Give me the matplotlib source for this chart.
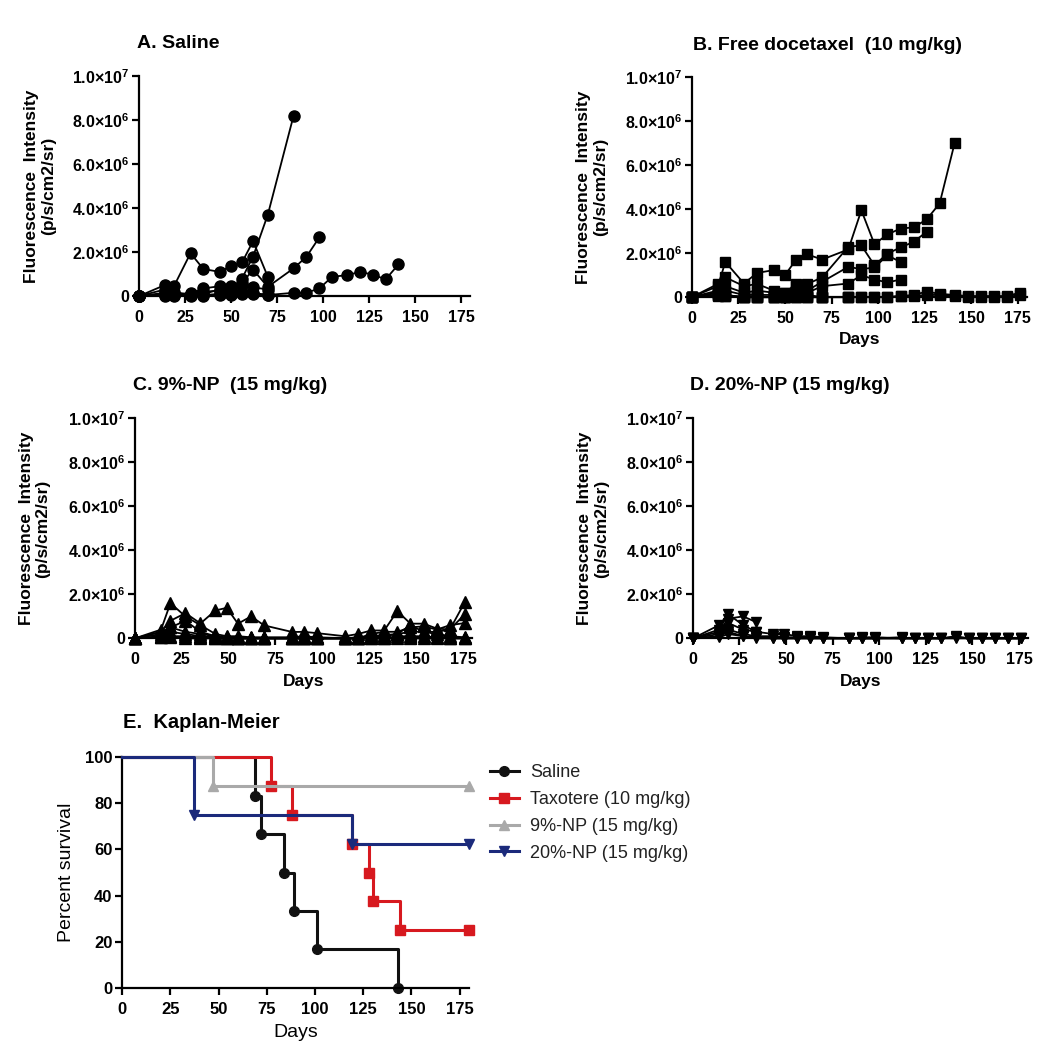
import numpy as np
import matplotlib
matplotlib.use('Agg')
import matplotlib.pyplot as plt

plt.rcParams['font.family'] = ['Liberation Sans', 'DejaVu Sans']
plt.rcParams['mathtext.fontset'] = 'custom'
plt.rcParams['mathtext.rm'] = 'Liberation Sans'
plt.rcParams['mathtext.bf'] = 'Liberation Sans:bold'

# fluorescence intensity per mouse, in units of 1e6 p/s/cm2/sr
SAL_DAYS = [0, 14, 19, 28, 35, 44, 50, 56, 62, 70, 84, 91, 98, 105, 113, 120, 127, 134, 141]
SAL_M1 = [0, 0.1, 0.05, 0.15, 0.2, 0.25, 0.3, 0.8, 1.8, 3.7, 8.2]
SAL_M2 = [0, 0.5, 0.45, 1.95, 1.23, 1.1, 1.38, 1.53, 2.5, 0.88]
SAL_M3 = [0, 0.05, 0.05, 0.1, 0.35, 0.45, 0.45, 0.6, 1.2, 0.42, 1.26, 1.79, 2.67]
SAL_M4 = [0, 0, 0, 0, 0, 0.05, 0.05, 0.1, 0.1, 0.05, 0.15, 0.15, 0.35, 0.88, 0.95, 1.1, 0.98, 0.76, 1.44]
SAL_M5 = [0, 0.3, 0.1, 0.1, 0.1, 0.3, 0.4, 0.5, 0.4, 0.3]
SAL_M6 = [0, 0.15, 0.2, 0.05, 0.05, 0.1, 0.1, 0.2, 0.15, 0.05]

FD_DAYS = [0, 14, 18, 28, 35, 44, 50, 56, 62, 70, 84, 91, 98, 105, 112, 119, 126, 133, 141,
           148, 155, 162, 169, 176]
FD_M1 = [0, 0.5, 1.6, 0.62, 1.1, 1.23, 1.0, 1.71, 1.94, 1.71, 2.17, 3.95, 2.41, 2.85, 3.12, 3.17,
         3.53, 4.26, 6.99]
FD_M2 = [0, 0.6, 0.9, 0.5, 0.6, 0.3, 0.2, 0.5, 0.6, 0.9, 2.29, 2.35, 1.45, 1.98, 2.26, 2.51, 2.97]
FD_M3 = [0, 0.3, 0.5, 0.2, 0.3, 0.2, 0.2, 0.6, 0.3, 0.7, 1.38, 1.27, 1.35, 1.9, 1.6]
FD_M4 = [0, 0.2, 0.3, 0.1, 0.1, 0.1, 0.1, 0.3, 0.2, 0.5, 0.62, 1.0, 0.8, 0.67, 0.8]
FD_M5 = [0, 0.2, 0.1, 0, 0, 0, 0, 0.1, 0.1, 0]
FD_M6 = [0, 0.1, 0.05, 0, 0, 0, 0, 0, 0, 0, 0]
FD_M7 = [0, 0.1, 0.1, 0, 0, 0, 0, 0, 0, 0, 0, 0, 0, 0, 0.05, 0.1, 0.25, 0.15, 0.1, 0.05, 0.05,
         0.05, 0.05, 0.2]
FD_M8 = [0, 0.05, 0.05, 0, 0, 0, 0, 0, 0, 0, 0, 0, 0, 0, 0.05, 0.05, 0.1, 0.1, 0.05, 0, 0, 0,
         0, 0.1]

NP9_DAYS = [0, 14, 19, 27, 35, 43, 49, 55, 62, 69, 84, 90, 97, 112, 119, 126, 133, 140, 147,
            154, 161, 168, 176]
NP9_M1 = [0, 0.4, 1.6, 1.0, 0.6, 0.2, 0.1, 0.1, 0.05, 0.05, 0.05, 0.1, 0.05, 0, 0.05, 0.1,
          0.1, 0.2, 0.3, 0.3, 0.3, 0.4, 1.65]
NP9_M2 = [0, 0.3, 0.8, 1.15, 0.68, 1.27, 1.39, 0.67, 1.0, 0.59, 0.29, 0.3, 0.24, 0.1, 0.2,
          0.36, 0.36, 1.24, 0.67, 0.67, 0.45, 0.4, 1.1]
NP9_M3 = [0, 0.2, 0.5, 0.8, 0.3, 0.1, 0.05, 0, 0, 0, 0, 0, 0, 0, 0, 0.2, 0.3, 0.3, 0.5, 0.55,
          0.4, 0.6, 0.7]
NP9_M4 = [0, 0.3, 0.5, 0.3, 0.2, 0.1]
NP9_M5 = [0, 0.1, 0.3, 0.2, 0.1, 0.05, 0, 0, 0, 0, 0, 0, 0, 0, 0, 0.1, 0.15, 0.2, 0.6, 0.3,
          0.2, 0.1, 0.05]
NP9_M6 = [0, 0.05, 0.1, 0.1, 0.05, 0, 0, 0, 0, 0, 0, 0, 0, 0, 0, 0, 0, 0.1, 0.1, 0.1, 0.05,
          0, 0]
NP9_M7 = [0, 0.05, 0.05, 0, 0, 0, 0, 0, 0, 0, 0, 0, 0, 0, 0, 0, 0, 0, 0, 0, 0, 0, 0]

NP20_DAYS = [0, 14, 19, 27, 34, 43, 49, 56, 63, 70, 84, 91, 98, 112, 119, 126, 133, 141, 148,
             155, 162, 169, 176]
NP20_M1 = [0, 0.6, 1.1, 0.6, 0.3, 0.2, 0.2, 0.1, 0.1, 0.05, 0, 0.05, 0.05, 0, 0, 0, 0, 0.1,
           0, 0, 0, 0, 0]
NP20_M2 = [0, 0.3, 0.9, 1.0, 0.74]
NP20_M3 = [0, 0.4, 0.7, 0.4, 0.3]
NP20_M4 = [0, 0.2, 0.4, 0.2, 0.1, 0.1, 0.05, 0.05, 0.05, 0, 0, 0, 0, 0.05]
NP20_M5 = [0, 0.1, 0.3, 0.1, 0.05, 0, 0, 0, 0, 0, 0, 0, 0, 0, 0, 0, 0, 0.05, 0, 0, 0, 0, 0]
NP20_M6 = [0, 0.05, 0.2, 0.1, 0, 0, 0, 0, 0, 0, 0, 0, 0, 0, 0, 0, 0, 0, 0, 0, 0, 0, 0]

# Kaplan-Meier survival
KM_LABELS = ['Saline', 'Taxotere (10 mg/kg)', '9%-NP (15 mg/kg)', '20%-NP (15 mg/kg)']
SAL_T = [0, 69, 72, 84, 89, 101, 143]
SAL_S = [100, 83.3, 66.7, 50, 33.3, 16.7, 0]
TAX_T = [0, 77, 88, 119, 128, 130, 144, 180]
TAX_S = [100, 87.5, 75, 62.5, 50, 37.5, 25, 25]
NP9_T = [0, 47, 180]
NP9_S = [100, 87.5, 87.5]
NP20_T = [0, 37, 119, 180]
NP20_S = [100, 75, 62.5, 62.5]

X_TICKS = [0, 25, 50, 75, 100, 125, 150, 175]
FL_TICKS = [0, 2e6, 4e6, 6e6, 8e6, 1e7]
KM_TICKS = [0, 20, 40, 60, 80, 100]


def sci(v):
    if v == 0:
        return '0'
    e = int(np.floor(np.log10(v)))
    return r'$\mathbf{%.1f{\times}10^{%d}}$' % (v / 10 ** e, e)


def base_axes(ax, tick_size):
    for s in ['top', 'right']:
        ax.spines[s].set_visible(False)
    for s in ['left', 'bottom']:
        ax.spines[s].set_linewidth(1.6)
    ax.tick_params(width=1.6, length=5, labelsize=tick_size)
    ax.tick_params(axis='y', pad=2)
    ax.tick_params(axis='x', pad=5)


fig = plt.figure(figsize=(10.45, 10.5), dpi=100)

panels = [
    ('A. Saline', [0.133, 0.718, 0.317, 0.2095], (137, 43), 'o', 8, SAL_DAYS,
     [SAL_M1, SAL_M2, SAL_M3, SAL_M4, SAL_M5, SAL_M6], False),
    ('B. Free docetaxel  (10 mg/kg)', [0.662, 0.717, 0.321, 0.2095], (693, 45), 's', 7.5, FD_DAYS,
     [FD_M1, FD_M2, FD_M3, FD_M4, FD_M5, FD_M6, FD_M7, FD_M8], True),
    ('C. 9%-NP  (15 mg/kg)', [0.129, 0.392, 0.323, 0.2095], (133, 385), '^', 8, NP9_DAYS,
     [NP9_M1, NP9_M2, NP9_M3, NP9_M4, NP9_M5, NP9_M6, NP9_M7], True),
    ('D. 20%-NP (15 mg/kg)', [0.663, 0.392, 0.321, 0.2095], (690, 385), 'v', 7, NP20_DAYS,
     [NP20_M1, NP20_M2, NP20_M3, NP20_M4, NP20_M5, NP20_M6], True),
]

for title, rect, tpos, mk, ms, days, mice, show_days in panels:
    ax = fig.add_axes(rect)
    base_axes(ax, 11.5)
    for vals in mice:
        ax.plot(days[:len(vals)], np.array(vals) * 1e6, color='black', lw=1.3,
                marker=mk, ms=ms, clip_on=False)
    ax.set_xlim(0, 180)
    ax.set_ylim(0, 1e7)
    ax.set_xticks(X_TICKS, labels=[str(t) for t in X_TICKS], fontweight='bold')
    ax.set_yticks(FL_TICKS, labels=[sci(v) for v in FL_TICKS], fontweight='bold')
    ax.set_ylabel('Fluorescence  Intensity\n(p/s/cm2/sr)', fontsize=12.5, fontweight='bold',
                  linespacing=1.15)
    ax.yaxis.set_label_coords(-0.25, 0.5)
    if show_days:
        ax.set_xlabel('Days', fontsize=12.5, fontweight='bold', va='top')
        ax.xaxis.set_label_coords(0.5, -0.16)
    fig.text(tpos[0] / 1045, 1 - tpos[1] / 1050, title, fontsize=14, fontweight='bold',
             ha='left', va='center')

# Kaplan-Meier panel
ax = fig.add_axes([0.117, 0.059, 0.332, 0.22])
base_axes(ax, 12)
km = [
    (SAL_T, SAL_S, '#111111', 'o', 1),
    (TAX_T, TAX_S, '#d7191f', 's', 2),
    (NP9_T, NP9_S, '#a9a9a9', '^', 3),
    (NP20_T, NP20_S, '#1b2a7b', 'v', 4),
]
handles = []
for (t, s, c, mk, z), lab in zip(km, KM_LABELS):
    ln, = ax.plot(t, s, drawstyle='steps-post', color=c, lw=2.2, marker=mk, ms=7,
                  markevery=slice(1, None), zorder=z, clip_on=False, label=lab)
    handles.append(ln)
ax.set_xlim(0, 180)
ax.set_ylim(0, 100)
ax.set_xticks(X_TICKS, labels=[str(t) for t in X_TICKS], fontweight='bold')
ax.set_yticks(KM_TICKS, labels=[str(t) for t in KM_TICKS], fontweight='bold')
ax.set_ylabel('Percent survival', fontsize=14)
ax.yaxis.set_label_coords(-0.135, 0.5)
ax.set_xlabel('Days', fontsize=14, va='top')
ax.xaxis.set_label_coords(0.5, -0.155)
fig.text(123 / 1045, 1 - 723 / 1050, 'E.  Kaplan-Meier', fontsize=14.5, fontweight='bold',
         ha='left', va='center')

fig.legend(handles=handles, loc='upper left', bbox_to_anchor=(490 / 1045, 1 - 764 / 1050),
           frameon=False, fontsize=13, handlelength=1.6, handletextpad=0.6,
           labelspacing=0.55, borderpad=0, borderaxespad=0, labelcolor='#222222')

fig.savefig('out.png', dpi=100)
